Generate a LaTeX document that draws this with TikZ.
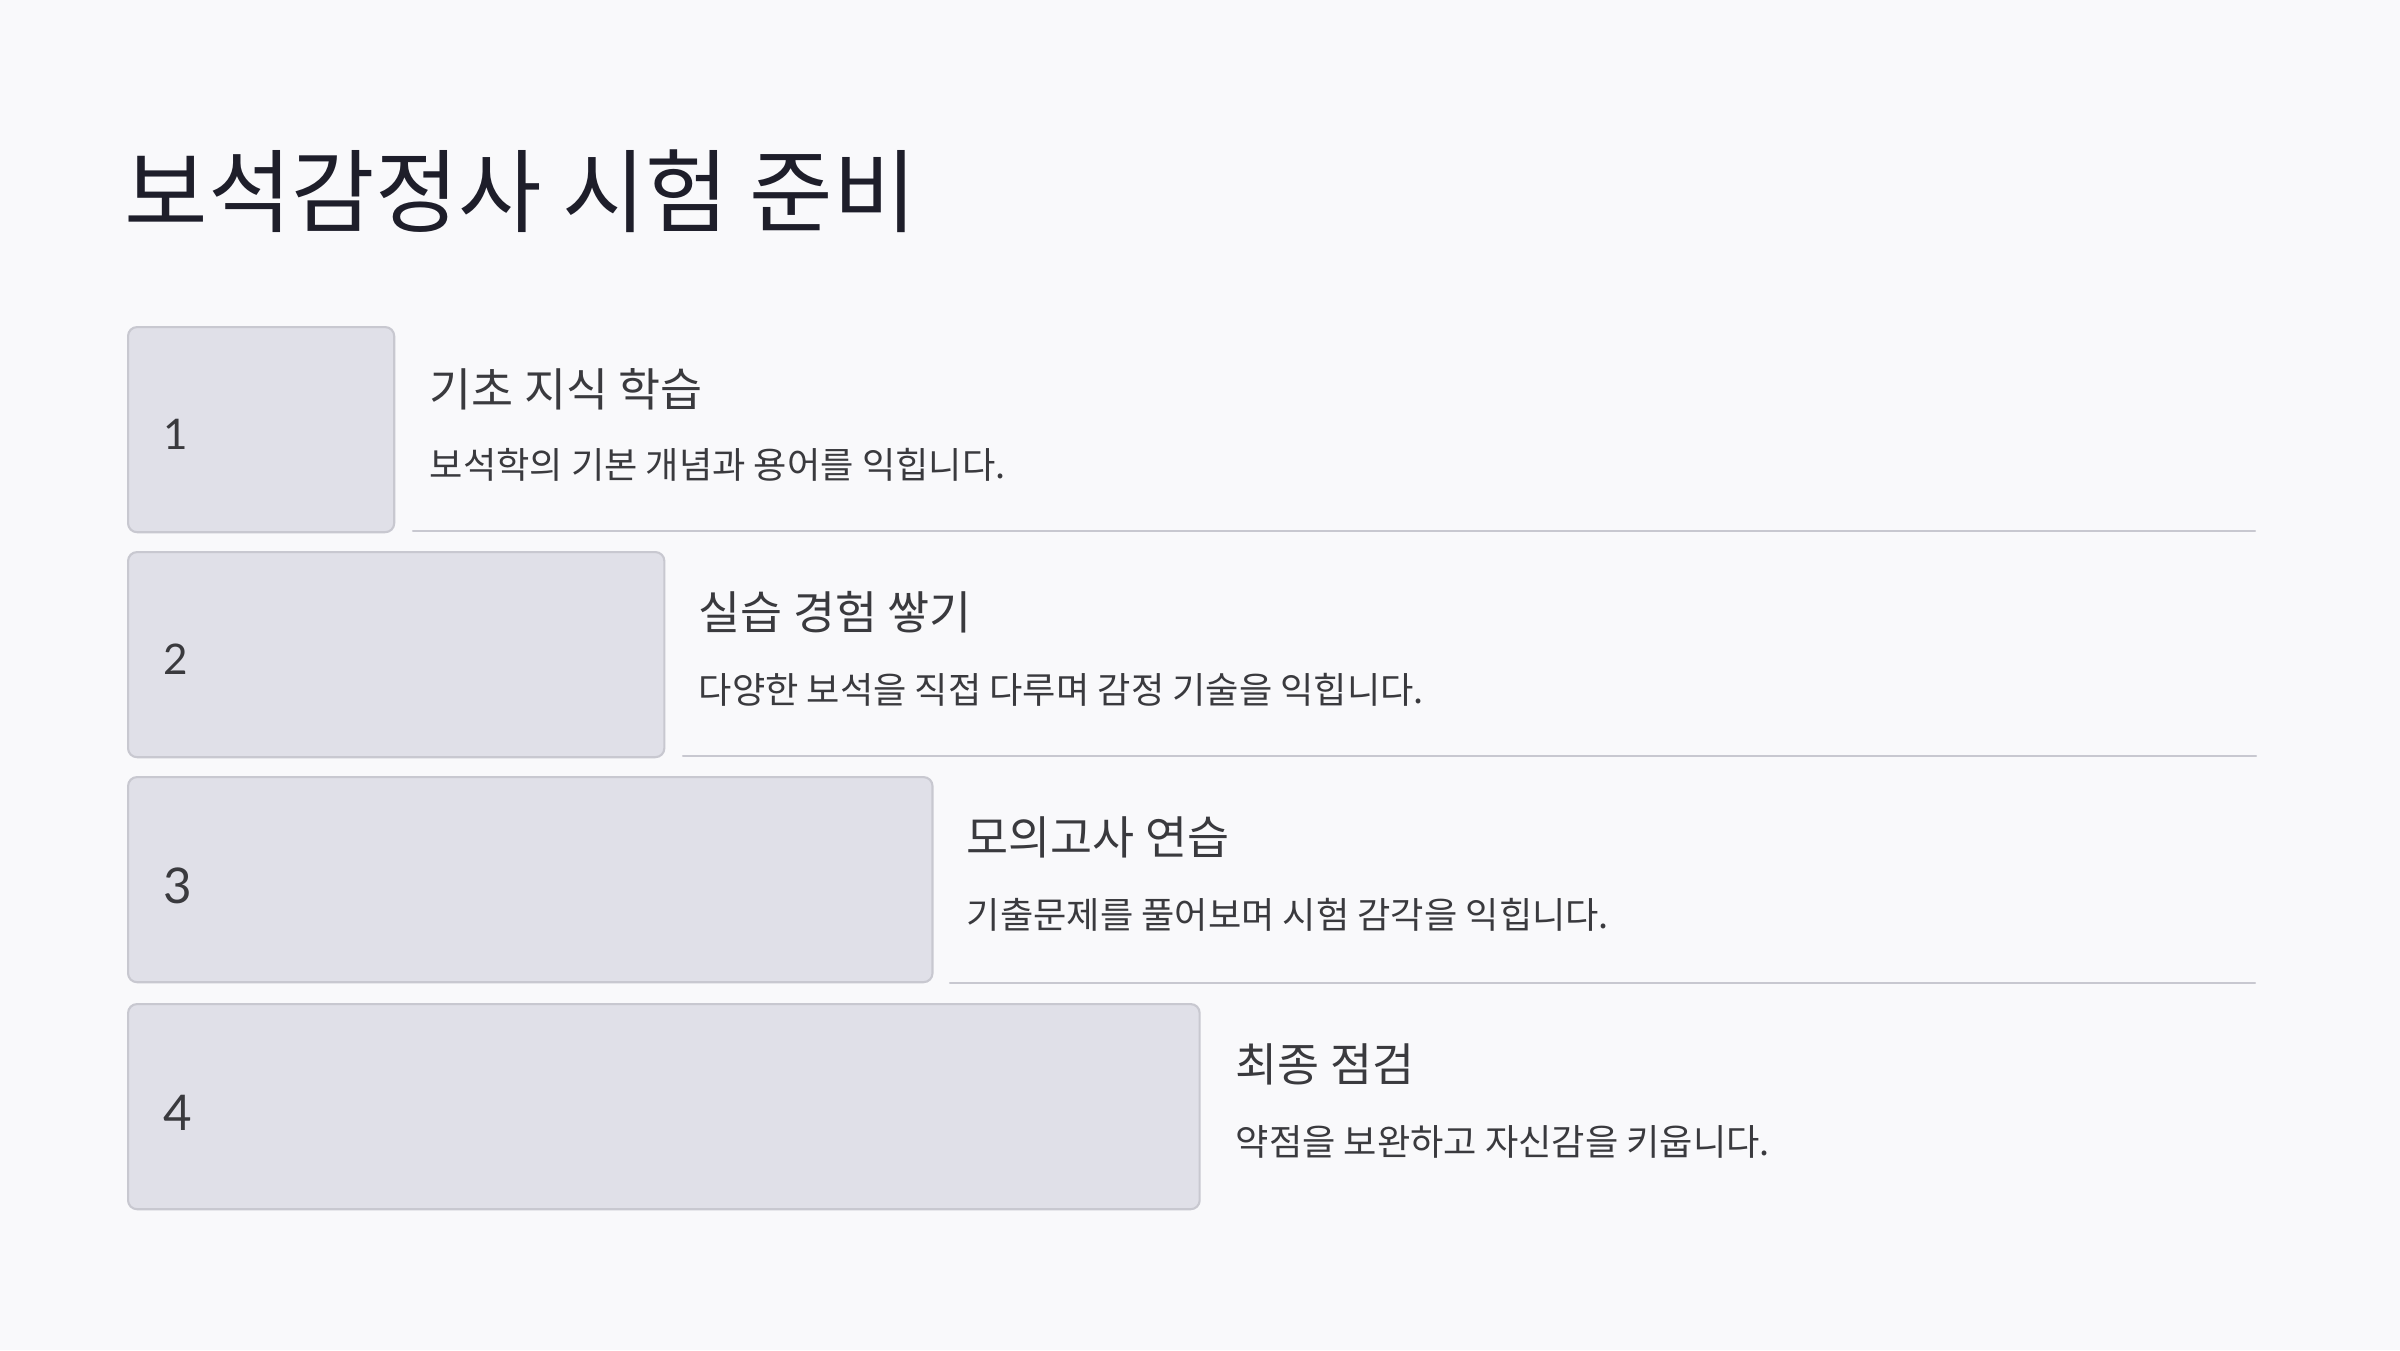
\documentclass[tikz,border=0pt]{standalone}
\usepackage{fontspec}
\setmainfont{Noto Sans CJK KR}
\newfontfamily\numfont{Lato}
\definecolor{bgcol}{HTML}{F9F9FB}
\definecolor{boxfill}{HTML}{E0E0E8}
\definecolor{boxdraw}{HTML}{C8C8D0}
\definecolor{titlecol}{HTML}{1E1E2A}
\definecolor{textcol}{HTML}{3A3A3E}
\tikzset{
  stepbox/.style={draw=boxdraw, fill=boxfill, line width=0.6pt, rounded corners=0.09cm, anchor=north west, minimum height=2.05cm, inner sep=0pt},
  numtext/.style={anchor=west, inner sep=0pt, text=textcol, font=\numfont\fontsize{12}{14}\selectfont},
  headtext/.style={anchor=west, inner sep=0pt, text=textcol, font=\fontsize{13}{16}\selectfont},
  desctext/.style={anchor=west, inner sep=0pt, text=textcol, font=\fontsize{10.3}{12}\selectfont},
  sepline/.style={draw=boxdraw, line width=0.6pt}
}
\begin{document}
\begin{tikzpicture}[x=0.01cm, y=-0.01cm, line join=round, line cap=round]
		\fill[bgcol] (0,0) rectangle (2400,1350);
		\useasboundingbox (0,0) rectangle (2400,1350);
		\node[anchor=west, inner sep=0pt, text=titlecol, font=\fontsize{25.8}{30}\selectfont] (title) at (124,191) {보석감정사 시험 준비};
		% step 1
		\node[stepbox, minimum width=2.66cm] (box1) at (127,326) {};
		\node[numtext] (num1) at ([xshift=0.36cm, yshift=-0.05cm]box1.west) {1};
		\node[headtext] (head1) at (429,389) {기초 지식 학습};
		\node[desctext] (desc1) at (429,465) {보석학의 기본 개념과 용어를 익힙니다.};
		\draw[sepline] (413,531) -- (2255,531);
		% step 2
		\node[stepbox, minimum width=5.36cm] (box2) at (127,551) {};
		\node[numtext] (num2) at ([xshift=0.36cm, yshift=-0.05cm]box2.west) {2};
		\node[headtext] (head2) at (698,612) {실습 경험 쌓기};
		\node[desctext] (desc2) at (698,690) {다양한 보석을 직접 다루며 감정 기술을 익힙니다.};
		\draw[sepline] (683,756) -- (2256,756);
		% step 3
		\node[stepbox, minimum width=8.04cm] (box3) at (127,776) {};
		\node[numtext, font=\numfont\fontsize{14}{16}\selectfont] (num3) at ([xshift=0.36cm, yshift=-0.06cm]box3.west) {3};
		\node[headtext] (head3) at (966,837) {모의고사 연습};
		\node[desctext] (desc3) at (966,915) {기출문제를 풀어보며 시험 감각을 익힙니다.};
		\draw[sepline] (950,983) -- (2255,983);
		% step 4
		\node[stepbox, minimum width=10.71cm] (box4) at (127,1003) {};
		\node[numtext, font=\numfont\fontsize{14}{16}\selectfont] (num4) at ([xshift=0.36cm, yshift=-0.06cm]box4.west) {4};
		\node[headtext] (head4) at (1235,1064) {최종 점검};
		\node[desctext] (desc4) at (1235,1142) {약점을 보완하고 자신감을 키웁니다.};
\end{tikzpicture}
\end{document}
